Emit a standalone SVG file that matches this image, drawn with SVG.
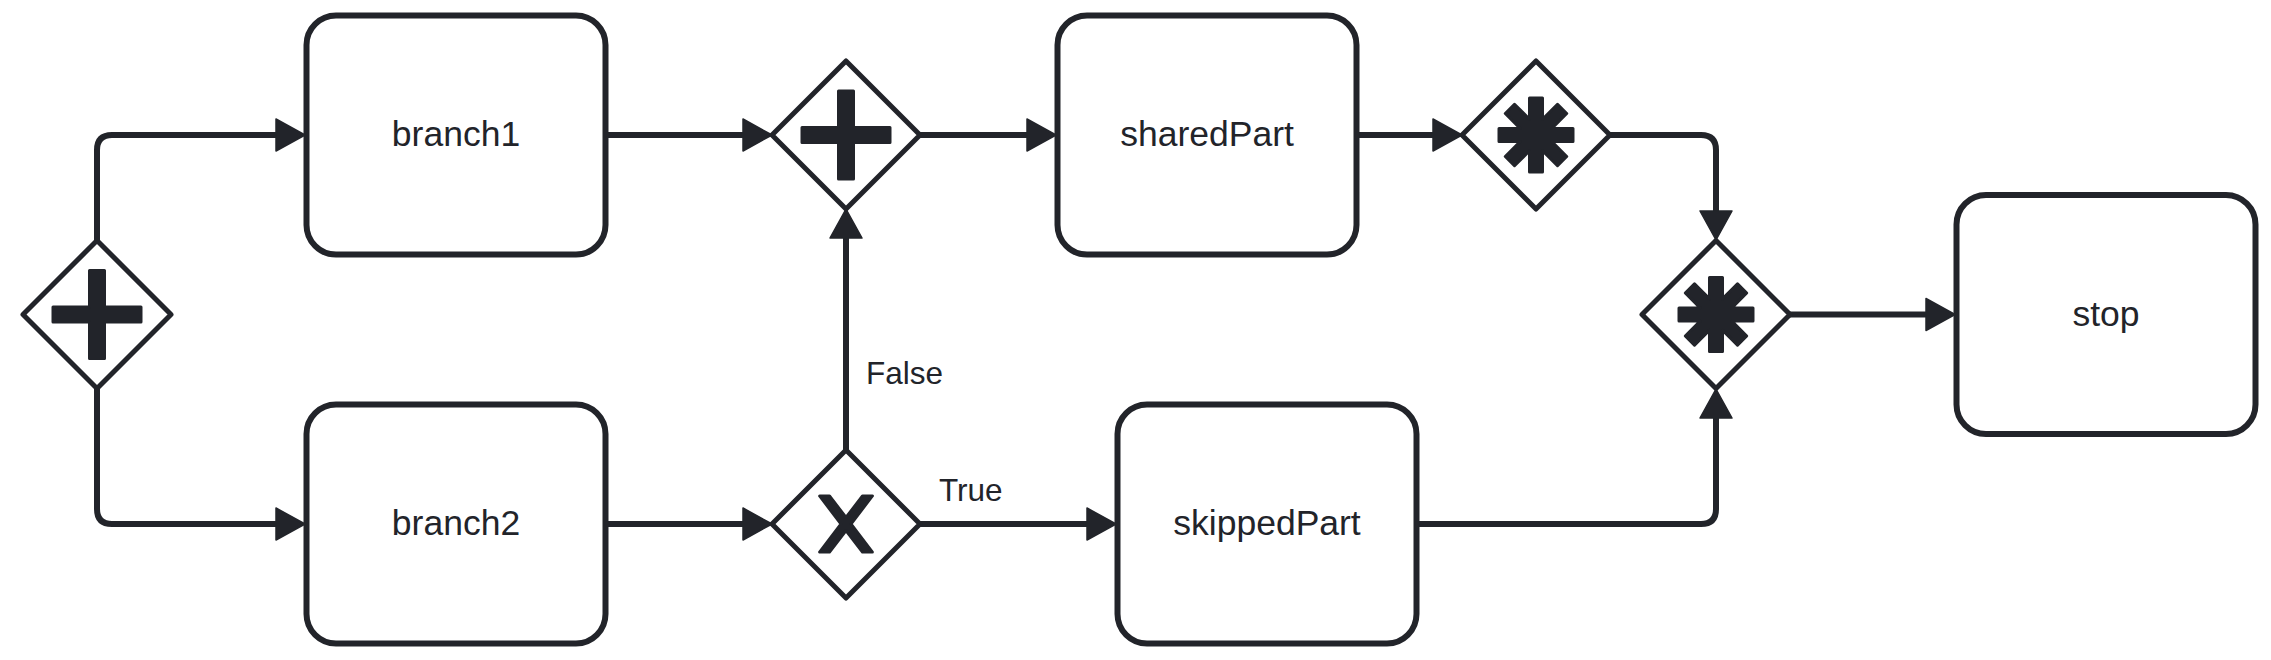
<svg xmlns="http://www.w3.org/2000/svg" width="2271" height="660" viewBox="0 0 2271 660">
<style>
.task{fill:#fff;stroke:#22242a;stroke-width:6}
.gw{fill:#fff;stroke:#22242a;stroke-width:5;stroke-linejoin:round}
.mk{fill:#22242a;stroke:#22242a;stroke-width:3;stroke-linejoin:round}
.flow{fill:none;stroke:#22242a;stroke-width:6;marker-end:url(#arrow)}
.tl{font-family:"Liberation Sans",Arial,sans-serif;font-size:35.5px;fill:#22242a;text-anchor:middle}
.lbl{font-family:"Liberation Sans",Arial,sans-serif;font-size:31.5px;fill:#22242a}
</style>
<defs>
<marker id="arrow" markerUnits="userSpaceOnUse" markerWidth="36" markerHeight="36" refX="21" refY="16" orient="auto" overflow="visible">
<path d="M0,0 L29,16 L0,32 Z" fill="#22242a" stroke="#22242a" stroke-width="1.5" stroke-linejoin="round"/>
</marker>
<path id="plus" d="M-7.5,-44 h15 v36.5 h36.5 v15 h-36.5 v36.5 h-15 v-36.5 h-36.5 v-15 h36.5 z"/>
<path id="star" d="M-6.5,-37 L-6.5,-15.8 L-21.5,-30.7 L-30.7,-21.5 L-15.8,-6.5 L-37,-6.5 L-37,6.5 L-15.8,6.5 L-30.7,21.5 L-21.5,30.7 L-6.5,15.8 L-6.5,37 L6.5,37 L6.5,15.8 L21.5,30.7 L30.7,21.5 L15.8,6.5 L37,6.5 L37,-6.5 L15.8,-6.5 L30.7,-21.5 L21.5,-30.7 L6.5,-15.8 L6.5,-37 Z"/>
<path id="ex" d="M-26.4,-28.05 L-4.95,0 L-26.4,28.05 L-16.5,28.05 L0,6.5 L16.5,28.05 L26.4,28.05 L4.95,0 L26.4,-28.05 L16.5,-28.05 L0,-6.5 L-16.5,-28.05 Z"/>
<path id="dia" d="M0,-74 L74,0 L0,74 L-74,0 Z"/>
</defs>
<g id="connectors">
<path class="flow" d="M97,240 L97,150 Q97,135 112,135 L297,135"/>
<path class="flow" d="M97,389 L97,509 Q97,524 112,524 L297,524"/>
<path class="flow" d="M606,135 L764,135"/>
<path class="flow" d="M606,524 L764,524"/>
<path class="flow" d="M920,135 L1048,135"/>
<path class="flow" d="M846,450 L846,217"/>
<path class="flow" d="M920,524 L1108,524"/>
<path class="flow" d="M1357,135 L1454,135"/>
<path class="flow" d="M1610,135 L1701,135 Q1716,135 1716,150 L1716,232"/>
<path class="flow" d="M1417,524 L1701,524 Q1716,524 1716,509 L1716,397"/>
<path class="flow" d="M1790,314.5 L1947,314.5"/>
<text class="lbl" x="866" y="384">False</text>
<text class="lbl" x="939" y="501">True</text>
</g>
<g id="start_gateway" transform="translate(97,314.5)">
<use href="#dia" class="gw"/>
<use href="#plus" class="mk"/>
</g>
<g id="branch1">
<rect class="task" x="306.5" y="15.5" width="299" height="239" rx="29.5"/>
<text class="tl" x="456" y="146">branch1</text>
</g>
<g id="branch2">
<rect class="task" x="306.5" y="404.5" width="299" height="239" rx="29.5"/>
<text class="tl" x="456" y="535">branch2</text>
</g>
<g id="join_gateway" transform="translate(846,135)">
<use href="#dia" class="gw"/>
<use href="#plus" class="mk"/>
</g>
<g id="xor_gateway" transform="translate(846,524)">
<use href="#dia" class="gw"/>
<use href="#ex" class="mk"/>
</g>
<g id="sharedPart">
<rect class="task" x="1057.5" y="15.5" width="299" height="239" rx="29.5"/>
<text class="tl" x="1207" y="146">sharedPart</text>
</g>
<g id="skippedPart">
<rect class="task" x="1117.5" y="404.5" width="299" height="239" rx="29.5"/>
<text class="tl" x="1267" y="535">skippedPart</text>
</g>
<g id="complex_gateway1" transform="translate(1536,135)">
<use href="#dia" class="gw"/>
<use href="#star" class="mk"/>
</g>
<g id="complex_gateway2" transform="translate(1716,314.5)">
<use href="#dia" class="gw"/>
<use href="#star" class="mk"/>
</g>
<g id="stop">
<rect class="task" x="1956.5" y="195" width="299" height="239" rx="29.5"/>
<text class="tl" x="2106" y="326">stop</text>
</g>
</svg>
